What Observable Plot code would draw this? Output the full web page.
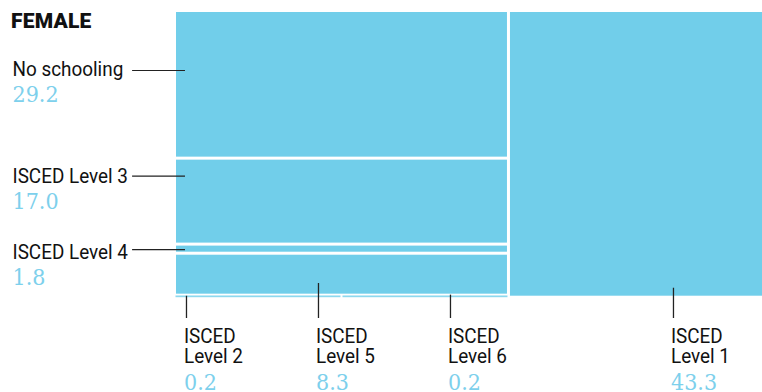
<!DOCTYPE html>
<html>
<head>
<meta charset="utf-8">
<script src="https://cdn.jsdelivr.net/npm/d3@7"></script>
<script src="https://cdn.jsdelivr.net/npm/@observablehq/plot@0.6"></script>
<style>
  html, body { margin: 0; padding: 0; background: #fff; }
  #wrap { position: relative; width: 762px; height: 392px; overflow: hidden; }
  #title { position: absolute; left: 11px; top: 11px; margin: 0; font: 900 21px/21px Roboto, sans-serif; color: #111; letter-spacing: 0.2px; }
  #wrap svg { display: block; }
</style>
</head>
<body>
<div id="wrap"><div id="title">FEMALE</div></div>
<script>
// ---- data ----
const categories = ["No schooling", "ISCED Level 1", "ISCED Level 2", "ISCED Level 3", "ISCED Level 4", "ISCED Level 5", "ISCED Level 6"];
const values     = [29.2, 43.3, 0.2, 17.0, 1.8, 8.3, 0.2];

// tiling order: two columns, each a vertical stack of rows
const leftColumn  = [["No schooling"], ["ISCED Level 3"], ["ISCED Level 4"], ["ISCED Level 5"], ["ISCED Level 2", "ISCED Level 6"]];
const rightColumn = [["ISCED Level 1"]];

// labelled categories
const leftLabels   = ["No schooling", "ISCED Level 3", "ISCED Level 4"];
const bottomLabels = ["ISCED Level 2", "ISCED Level 5", "ISCED Level 6", "ISCED Level 1"];

// ---- annotation layout (x in % of total, y in share of column height) ----
const leftLeaderY   = [0.2075, 0.576, 0.832];
const leftBaselineY = [0.2274, 0.5992, 0.8643];
const bottomTickX   = [1.95, 24.36, 46.77, 84.63];
const bottomTickTop = [0.995, 0.9505, 0.991, 0.967];

const BLUE = "#71CEEA";
const VALUE_BLUE = "#7DD0EC";

const valueOf = new Map(categories.map((c, i) => [c, values[i]]));
const total = d3.sum(values);
const fmt = d3.format(".1f");

// slice-and-dice layout computed from the values
const tiles = [];
let cx = 0;
for (const column of [leftColumn, rightColumn]) {
  const colSum = d3.sum(column.flat(), c => valueOf.get(c));
  const cx2 = cx + colSum / total * 100;
  let ry = 0;
  for (const row of column) {
    const rowSum = d3.sum(row, c => valueOf.get(c));
    const ry2 = ry + rowSum / colSum;
    let tx = cx;
    for (const c of row) {
      const tx2 = tx + valueOf.get(c) / rowSum * (cx2 - cx);
      tiles.push({name: c, value: valueOf.get(c), x1: tx, x2: tx2, y1: ry, y2: ry2, thin: row.length > 1});
      tx = tx2;
    }
    ry = ry2;
  }
  cx = cx2;
}

const labelFont = "Roboto, 'Noto Sans', sans-serif";
const valueFont = "'DejaVu Serif', 'Liberation Serif', serif";

const chart = Plot.plot({
  width: 762,
  height: 392,
  marginLeft: 174.5,
  marginRight: 0,
  marginTop: 10.5,
  marginBottom: 94.8,
  x: {domain: [0, 100], range: [174.5, 763.5], axis: null},
  y: {domain: [0, 1], range: [10.5, 297.2], axis: null},
  style: {background: "white", overflow: "visible", fontFamily: labelFont},
  marks: [
    Plot.rect(tiles.filter(d => !d.thin), {x1: "x1", x2: "x2", y1: "y1", y2: "y2", fill: BLUE, inset: 1.5}),
    Plot.rect(tiles.filter(d => d.thin), {x1: "x1", x2: "x2", y1: "y1", y2: "y2", fill: BLUE, fillOpacity: 0.8,
      insetLeft: 1, insetRight: 1, insetTop: 0.3, insetBottom: 0}),

    // left leaders + labels
    Plot.ruleY(leftLabels, {y: (d, i) => leftLeaderY[i], x1: () => -7.2, x2: () => 1.78, stroke: "#222", strokeWidth: 1.2}),
    Plot.text(leftLabels, {y: (d, i) => leftBaselineY[i], text: d => d, frameAnchor: "left", dx: -162.5,
      textAnchor: "start", lineAnchor: "bottom", fontSize: 21, fill: "#111", fontFamily: labelFont}),
    Plot.text(leftLabels, {y: (d, i) => leftBaselineY[i], text: d => fmt(valueOf.get(d)), frameAnchor: "left", dx: -162.5, dy: 26,
      textAnchor: "start", lineAnchor: "bottom", fontSize: 23, fill: VALUE_BLUE, fontFamily: valueFont}),

    // bottom ticks + labels
    Plot.ruleX(bottomLabels, {x: (d, i) => bottomTickX[i], y1: (d, i) => bottomTickTop[i], y2: () => 1.0725, stroke: "#222", strokeWidth: 1.3}),
    Plot.text(bottomLabels, {x: (d, i) => bottomTickX[i], text: d => d.replace(" Level", "\nLevel"), frameAnchor: "bottom", dx: -2.5, dy: 65.3,
      textAnchor: "start", lineAnchor: "bottom", lineHeight: 1, fontSize: 20, fill: "#111", fontFamily: labelFont}),
    Plot.text(bottomLabels, {x: (d, i) => bottomTickX[i], text: d => fmt(valueOf.get(d)), frameAnchor: "bottom", dx: -2.5, dy: 92.6,
      textAnchor: "start", lineAnchor: "bottom", fontSize: 23, fill: VALUE_BLUE, fontFamily: valueFont})
  ]
});

// condense label glyphs horizontally around their anchor
chart.querySelectorAll('g[aria-label="text"] text').forEach(t => {
  const g = t.closest("g");
  const fs = g ? g.getAttribute("font-size") : null;
  const sx = fs === "20" ? 0.945 : 0.9;
  let tr = t.getAttribute("transform");
  if (!tr) {
    const x = t.getAttribute("x") || 0, y = t.getAttribute("y") || 0;
    t.removeAttribute("x"); t.removeAttribute("y");
    tr = `translate(${x},${y})`;
  }
  t.setAttribute("transform", tr + ` scale(${sx},1)`);
});

document.getElementById("wrap").appendChild(chart);
document.getElementById("wrap").appendChild(document.getElementById("title"));
</script>
</body>
</html>
